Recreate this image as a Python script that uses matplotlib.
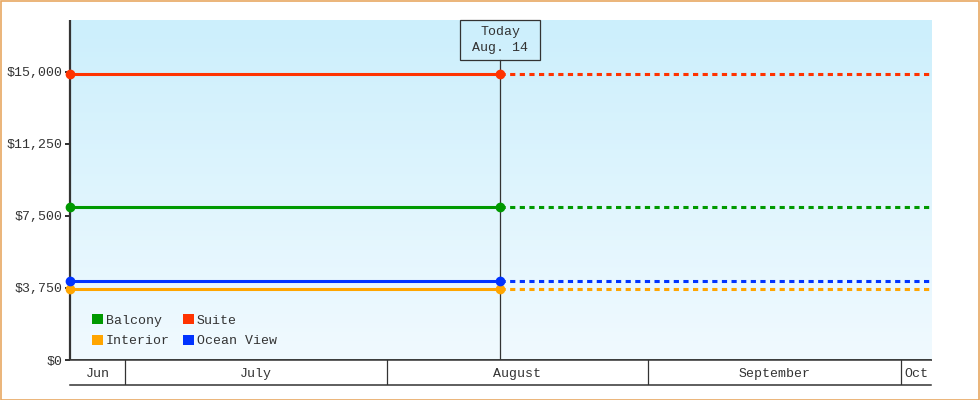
import numpy as np
import pandas as pd
import matplotlib
matplotlib.use("Agg")
import matplotlib.pyplot as plt
import matplotlib.dates as mdates
from matplotlib.patches import Rectangle, Patch
from matplotlib.transforms import blended_transform_factory

# data
categories = ["Balcony", "Suite", "Interior", "Ocean View"]
prices = [7950, 14900, 3700, 4100]
colors = ["#009900", "#ff3300", "#ffa500", "#0033ff"]

start_date = "2023-06-24 12:00"
today_date = "2023-08-14 12:00"
end_date = "2023-10-04 12:00"
today_label = "Today\nAug. 14"

y_ticks = [0, 3750, 7500, 11250, 15000]
y_tick_labels = ["$0", "$3,750", "$7,500", "$11,250", "$15,000"]
y_max = 17700

month_starts = ["2023-06-01", "2023-07-01", "2023-08-01", "2023-09-01", "2023-10-01", "2023-11-01"]
month_labels = ["Jun", "July", "August", "September", "Oct"]

W, H = 980, 400
DARK = "#333333"
plt.rcParams["font.family"] = ["Liberation Mono", "DejaVu Sans Mono"]
FS = 9.5

fig = plt.figure(figsize=(W / 100, H / 100), dpi=100)
fig.patch.set_facecolor("white")

# plot area in pixels
L, R, T, B = 70, 931, 20, 360
BAND = 25


def frac(x0, y0, x1, y1):
    return [x0 / W, 1 - y1 / H, (x1 - x0) / W, (y1 - y0) / H]


ax = fig.add_axes(frac(L, T, R, B))
band = fig.add_axes(frac(L, B, R, B + BAND), sharex=ax)

t0 = mdates.date2num(pd.Timestamp(start_date))
t1 = mdates.date2num(pd.Timestamp(today_date))
t2 = mdates.date2num(pd.Timestamp(end_date))

ax.set_xlim(t0, t2)
ax.set_ylim(0, y_max)

# gradient background
top_c = np.array([204, 239, 252]) / 255
bot_c = np.array([241, 250, 255]) / 255
grad = np.linspace(0, 1, 256)[:, None]
img = top_c[None, None, :] * (1 - grad[:, :, None]) + bot_c[None, None, :] * grad[:, :, None]
ax.imshow(img, aspect="auto", extent=[0, 1, 0, 1], transform=ax.transAxes, zorder=0)

# today marker line and box
box_w_px, box_h_px = 80, 40
ax_w_px = R - L
ax_h_px = B - T
half_w = box_w_px / 2 / ax_w_px * (t2 - t0)
box_h = box_h_px / ax_h_px
bt = blended_transform_factory(ax.transData, ax.transAxes)
ax.plot([t1, t1], [0, 1 - box_h], transform=bt, color=DARK, lw=0.9, zorder=2)
ax.add_patch(Rectangle((t1 - half_w, 1 - box_h), 2 * half_w, box_h, transform=bt,
                       facecolor="none", edgecolor=DARK, lw=0.9, zorder=3, clip_on=False))
ax.text(t1, 1 - box_h / 2, today_label, transform=bt, ha="center", va="center",
        fontsize=FS, color=DARK, linespacing=1.45, zorder=4)

# price lines: solid up to today, dotted afterwards
for name, p, c in zip(categories, prices, colors):
    ax.plot([t0, t1], [p, p], color=c, lw=2.2, zorder=5, solid_capstyle="butt")
    ax.plot([t1, t2], [p, p], color=c, lw=2.2, zorder=5, linestyle=(0, (1.7, 1.45)))
    ax.plot([t0, t1], [p, p], linestyle="none", marker="o", ms=6, color=c, zorder=8, clip_on=False)

ax.set_yticks(y_ticks)
ax.set_yticklabels(y_tick_labels)
ax.tick_params(axis="y", length=3.6, width=1.44, color=DARK, labelcolor=DARK, labelsize=FS, pad=2)
ax.tick_params(axis="x", bottom=False, labelbottom=False)
for s in ["top", "right"]:
    ax.spines[s].set_visible(False)
ax.spines["left"].set_color(DARK)
ax.spines["left"].set_linewidth(1.6)
ax.spines["left"].set_capstyle("butt")
ax.spines["bottom"].set_color(DARK)
ax.spines["bottom"].set_linewidth(1.1)
ax.spines["left"].set_zorder(7)

# legend
handles = [Patch(facecolor=c, edgecolor="none", label=n) for n, c in zip(categories, colors)]
order = [0, 2, 1, 3]
ax.legend([handles[i] for i in order], [categories[i] for i in order], ncol=2,
          loc="upper left", bbox_to_anchor=((92 - L) / ax_w_px, 1 - (314 - T) / ax_h_px),
          frameon=False, fontsize=FS, handlelength=0.8, handleheight=0.8,
          handletextpad=0.25, columnspacing=1.0, labelspacing=0.6, borderpad=0,
          borderaxespad=0, labelcolor=DARK)

# month band below the plot
band.set_ylim(0, 1)
band.set_yticks([])
band.tick_params(axis="x", bottom=False, labelbottom=False)
for s in ["left", "right"]:
    band.spines[s].set_visible(False)
for s in ["top", "bottom"]:
    band.spines[s].set_color(DARK)
    band.spines[s].set_linewidth(1.1)
ms = [mdates.date2num(pd.Timestamp(d)) for d in month_starts]
for m in ms[1:-1]:
    if t0 < m < t2:
        band.axvline(m, color=DARK, lw=0.9)
for i, lab in enumerate(month_labels):
    a, b = max(ms[i], t0), min(ms[i + 1], t2)
    band.text((a + b) / 2, 0.45, lab, ha="center", va="center", fontsize=FS, color=DARK)

# orange frame round the image
fig.add_artist(Rectangle((0.5 / W, 0.5 / H), 1 - 1.5 / W, 1 - 1.5 / H, transform=fig.transFigure,
                         facecolor="none", edgecolor="#e8a862", lw=1.2))

fig.savefig("out.png", dpi=100)
